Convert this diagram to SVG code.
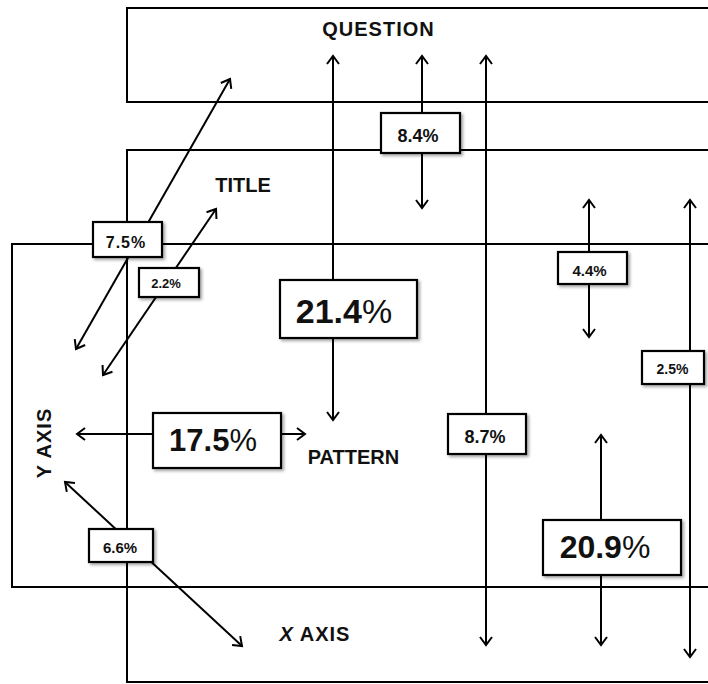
<svg xmlns="http://www.w3.org/2000/svg" width="708" height="684" viewBox="0 0 708 684">
<defs>
<style>
.frame{fill:none;stroke:#000;stroke-width:2}
.conn{stroke:#000;stroke-width:2;fill:none;marker-start:url(#ah);marker-end:url(#ah)}
.box{fill:#fff;stroke:#000;stroke-width:2.2;filter:url(#sh)}
.head{font-family:"Liberation Sans",Arial,sans-serif;font-weight:bold;font-size:20px;fill:#111;text-anchor:middle}
.pct{font-family:"Liberation Sans",Arial,sans-serif;font-weight:bold;fill:#111;text-anchor:middle}
.thin{font-weight:normal}
</style>
<marker id="ah" markerUnits="userSpaceOnUse" markerWidth="16" markerHeight="16" refX="11" refY="8" orient="auto-start-reverse" overflow="visible">
<path d="M3,2 L11,8 L3,14" fill="none" stroke="#000" stroke-width="2"/>
</marker>
<filter id="sh" x="-20%" y="-20%" width="150%" height="160%">
<feDropShadow dx="2" dy="2" stdDeviation="1.5" flood-color="#000" flood-opacity="0.35"/>
</filter>
</defs>

<g id="question">
<rect class="frame" x="127" y="8" width="620" height="94"/>
<text class="head" x="378.5" y="36" letter-spacing="1">QUESTION</text>
</g>
<g id="title">
<rect class="frame" x="127" y="150" width="620" height="532"/>
<text class="head" x="243" y="192">TITLE</text>
</g>
<g id="chart">
<rect class="frame" x="12" y="244" width="740" height="343"/>
</g>
<g id="pattern">
<text class="head" x="353.5" y="464">PATTERN</text>
</g>
<g id="y-axis">
<text class="head" transform="translate(51,443) rotate(-90)" letter-spacing="1">Y AXIS</text>
</g>
<g id="x-axis">
<text class="head" x="315" y="641" letter-spacing="1"><tspan font-style="italic">X</tspan> AXIS</text>
</g>

<g id="connectors">
<line class="conn" x1="76" y1="349" x2="230" y2="79"/>
<line class="conn" x1="103" y1="375" x2="216" y2="209"/>
<line class="conn" x1="333" y1="56" x2="333" y2="420"/>
<line class="conn" x1="422" y1="56" x2="422" y2="208"/>
<line class="conn" x1="486" y1="56" x2="486" y2="645"/>
<line class="conn" x1="589" y1="200" x2="589" y2="337"/>
<line class="conn" x1="690" y1="200" x2="690" y2="657"/>
<line class="conn" x1="601" y1="435" x2="601" y2="645"/>
<line class="conn" x1="77" y1="434" x2="305" y2="434"/>
<line class="conn" x1="65" y1="482" x2="242" y2="646"/>
</g>

<g id="label-7-5">
<rect class="box" x="93" y="222" width="69" height="35"/>
<text class="pct" x="126" y="248" font-size="16" letter-spacing="1">7.5%</text>
</g>
<g id="label-2-2">
<rect class="box" x="139" y="268" width="60" height="29"/>
<text class="pct" x="166" y="288" font-size="13">2.2%</text>
</g>
<g id="label-21-4">
<rect class="box" x="280" y="280" width="137" height="58"/>
<text class="pct" x="344" y="323" font-size="34">21.4<tspan class="thin">%</tspan></text>
</g>
<g id="label-8-4">
<rect class="box" x="381" y="113" width="79" height="40"/>
<text class="pct" x="418" y="142" font-size="18">8.4%</text>
</g>
<g id="label-4-4">
<rect class="box" x="558" y="252" width="69" height="32"/>
<text class="pct" x="589.5" y="276" font-size="15" font-weight="normal">4.4%</text>
</g>
<g id="label-2-5">
<rect class="box" x="642" y="351" width="62" height="33"/>
<text class="pct" x="672.5" y="374" font-size="14" font-weight="normal">2.5%</text>
</g>
<g id="label-8-7">
<rect class="box" x="448" y="414" width="78" height="40"/>
<text class="pct" x="485" y="443" font-size="18">8.7%</text>
</g>
<g id="label-20-9">
<rect class="box" x="543" y="520" width="138" height="55"/>
<text class="pct" x="605" y="558" font-size="32">20.9<tspan class="thin">%</tspan></text>
</g>
<g id="label-17-5">
<rect class="box" x="153" y="413" width="128" height="55"/>
<text class="pct" x="213" y="451" font-size="31">17.5<tspan class="thin">%</tspan></text>
</g>
<g id="label-6-6">
<rect class="box" x="89" y="529" width="64" height="33"/>
<text class="pct" x="120" y="553" font-size="15">6.6%</text>
</g>
</svg>
